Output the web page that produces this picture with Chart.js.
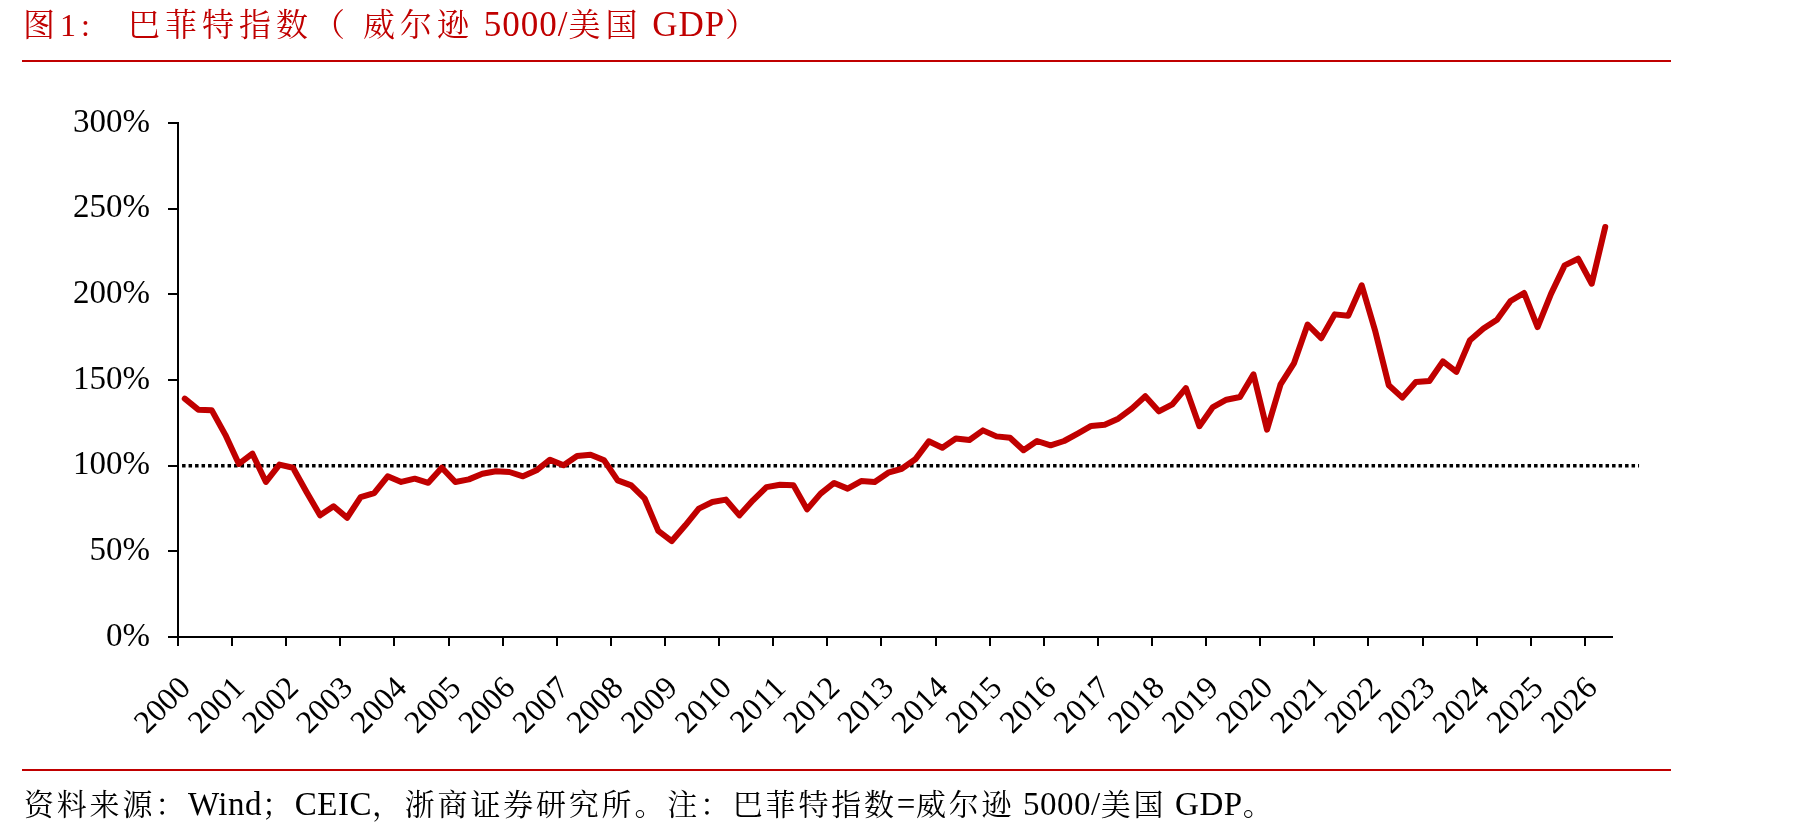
<!DOCTYPE html>
<html>
<head>
<meta charset="utf-8">
<script src="https://cdn.jsdelivr.net/npm/chart.js@4.4.1/dist/chart.umd.min.js"></script>
<style>
  html, body { margin: 0; padding: 0; background: #ffffff; width: 1798px; height: 838px; overflow: hidden; }
  #wrap { position: relative; width: 1798px; height: 838px; }
  #chart { position: absolute; left: 0; top: 0; }
  .serif { font-family: "Liberation Serif", "Noto Serif CJK SC", "Noto Sans CJK SC", serif; white-space: pre; position: absolute; }
  .title { top: 5px; font-size: 32px; line-height: 40px; color: #C00000; letter-spacing: 5px; }
  .title .lat { font-size: 35px; letter-spacing: 1px; }
  #foot { left: 24px; top: 784px; font-size: 30px; line-height: 40px; color: #000000; letter-spacing: 2.8px; }
  #foot .lat { font-size: 33px; letter-spacing: 0.5px; }
  .rule { position: absolute; left: 22px; width: 1649px; height: 2px; background: #C00000; }
</style>
</head>
<body>
<div id="wrap">
  <canvas id="chart" width="1798" height="838"></canvas>
  <div class="serif title" style="left:23px">图1:</div>
  <div class="serif title" style="left:128px">巴菲特指数（ 威尔逊<span class="lat"> 5000/</span>美国<span class="lat"> GDP</span>）</div>
  <div class="rule" style="top:60px"></div>
  <div class="rule" style="top:769px"></div>
  <div id="foot" class="serif">资料来源：<span class="lat">Wind</span>；<span class="lat">CEIC</span>，浙商证券研究所。注：巴菲特指数<span class="lat">=</span>威尔逊<span class="lat"> 5000/</span>美国<span class="lat"> GDP</span>。</div>
</div>
<script>
// ---- data (quarterly, 2000Q1 .. 2026Q2) ----
const years = ['2000','2001','2002','2003','2004','2005','2006','2007','2008','2009',
               '2010','2011','2012','2013','2014','2015','2016','2017','2018','2019',
               '2020','2021','2022','2023','2024','2025','2026'];
const quarterNames = ['Q1','Q2','Q3','Q4'];
const buffettIndex = [
  139.1, 132.7, 132.3, 118.0,   // 2000
  101.0, 107.0,  90.5, 100.6,   // 2001
   98.8,  84.6,  71.0,  76.3,   // 2002
   69.6,  81.7,  84.0,  93.8,   // 2003
   90.5,  92.4,  90.0,  98.8,   // 2004
   90.5,  92.0,  95.3,  96.7,   // 2005
   96.3,  93.8,  97.3, 103.5,   // 2006
  100.2, 105.6, 106.4, 103.1,   // 2007
   91.4,  88.5,  80.7,  61.9,   // 2008
   56.0,  65.2,  74.9,  78.8,   // 2009
   80.2,  71.0,  79.8,  87.5,   // 2010
   88.9,  88.5,  74.5,  83.7,   // 2011
   89.9,  86.6,  91.0,  90.5,   // 2012
   95.9,  98.2, 103.7, 114.2,   // 2013
  110.5, 115.8, 115.0, 120.6,   // 2014
  117.1, 116.3, 109.0, 114.4,   // 2015
  111.9, 114.4, 118.7, 123.2,   // 2016
  123.9, 127.4, 133.3, 140.5,   // 2017
  131.7, 135.8, 145.3, 123.0,   // 2018
  134.2, 138.5, 140.1, 153.3,   // 2019
  121.0, 147.5, 159.9, 182.4,   // 2020
  174.4, 188.3, 187.5, 205.3,   // 2021
  178.5, 146.9, 139.7, 148.8,   // 2022
  149.4, 160.9, 154.7, 173.2,   // 2023
  180.0, 185.2, 196.1, 200.8,   // 2024
  180.9, 200.4, 216.9, 220.8,   // 2025
  206.2, 239.3                  // 2026
];
const yTicks = [0, 50, 100, 150, 200, 250, 300];
const refLevel = [100, 100];
const refSpan = [-0.2, 107.5];   // dotted reference line runs slightly past the plot, as in the source

// table built from the arrays above
const categories = years.flatMap(y => quarterNames.map(q => y + q)).slice(0, buffettIndex.length);
const seriesPoints = buffettIndex.map((v, i) => ({ x: i, y: v }));
const refPoints = refLevel.map((v, i) => ({ x: refSpan[i], y: v }));

const serifFamily = '"Liberation Serif", "Times New Roman", serif';

new Chart(document.getElementById('chart'), {
  type: 'line',
  data: {
    datasets: [
      {
        label: '巴菲特指数',
        data: seriesPoints,
        borderColor: '#C00000',
        backgroundColor: '#C00000',
        borderWidth: 6,
        pointRadius: 0,
        tension: 0,
        borderCapStyle: 'round',
        borderJoinStyle: 'round',
        fill: false
      },
      {
        label: '100%',
        data: refPoints,
        borderColor: '#000000',
        borderWidth: 3.5,
        borderDash: [3.5, 3],
        pointRadius: 0,
        tension: 0,
        fill: false,
        clip: false
      }
    ]
  },
  options: {
    responsive: false,
    animation: false,
    devicePixelRatio: 1,
    layout: { padding: { top: 123, right: 186, bottom: 0, left: 0 } },
    plugins: {
      legend: { display: false },
      title: { display: false },
      tooltip: {
        callbacks: {
          title: items => categories[items[0].dataIndex] || '',
          label: item => item.parsed.y.toFixed(1) + '%'
        }
      }
    },
    scales: {
      x: {
        type: 'linear',
        min: -0.5,
        max: 105.5,
        afterBuildTicks: s => { s.ticks = years.map((y, k) => ({ value: k * 4 - 0.5 })); },
        afterFit: s => { s.height = 201; },
        ticks: {
          autoSkip: false,
          maxRotation: 45,
          minRotation: 45,
          padding: 24,
          labelOffset: 8,
          color: '#000000',
          font: { family: serifFamily, size: 32 },
          callback: (v, i) => years[i]
        },
        grid: { display: true, drawOnChartArea: false, drawTicks: true, tickLength: 9, color: '#000000', lineWidth: 2 },
        border: { display: true, color: '#000000', width: 2 }
      },
      y: {
        min: 0,
        max: 300,
        afterBuildTicks: s => { s.ticks = yTicks.map(v => ({ value: v })); },
        afterFit: s => { s.width = 178; },
        ticks: {
          padding: 18,
          color: '#000000',
          font: { family: serifFamily, size: 33 },
          callback: v => v + '%'
        },
        grid: { display: true, drawOnChartArea: false, drawTicks: true, tickLength: 10, color: '#000000', lineWidth: 2 },
        border: { display: true, color: '#000000', width: 2 }
      }
    }
  }
});
</script>
</body>
</html>
